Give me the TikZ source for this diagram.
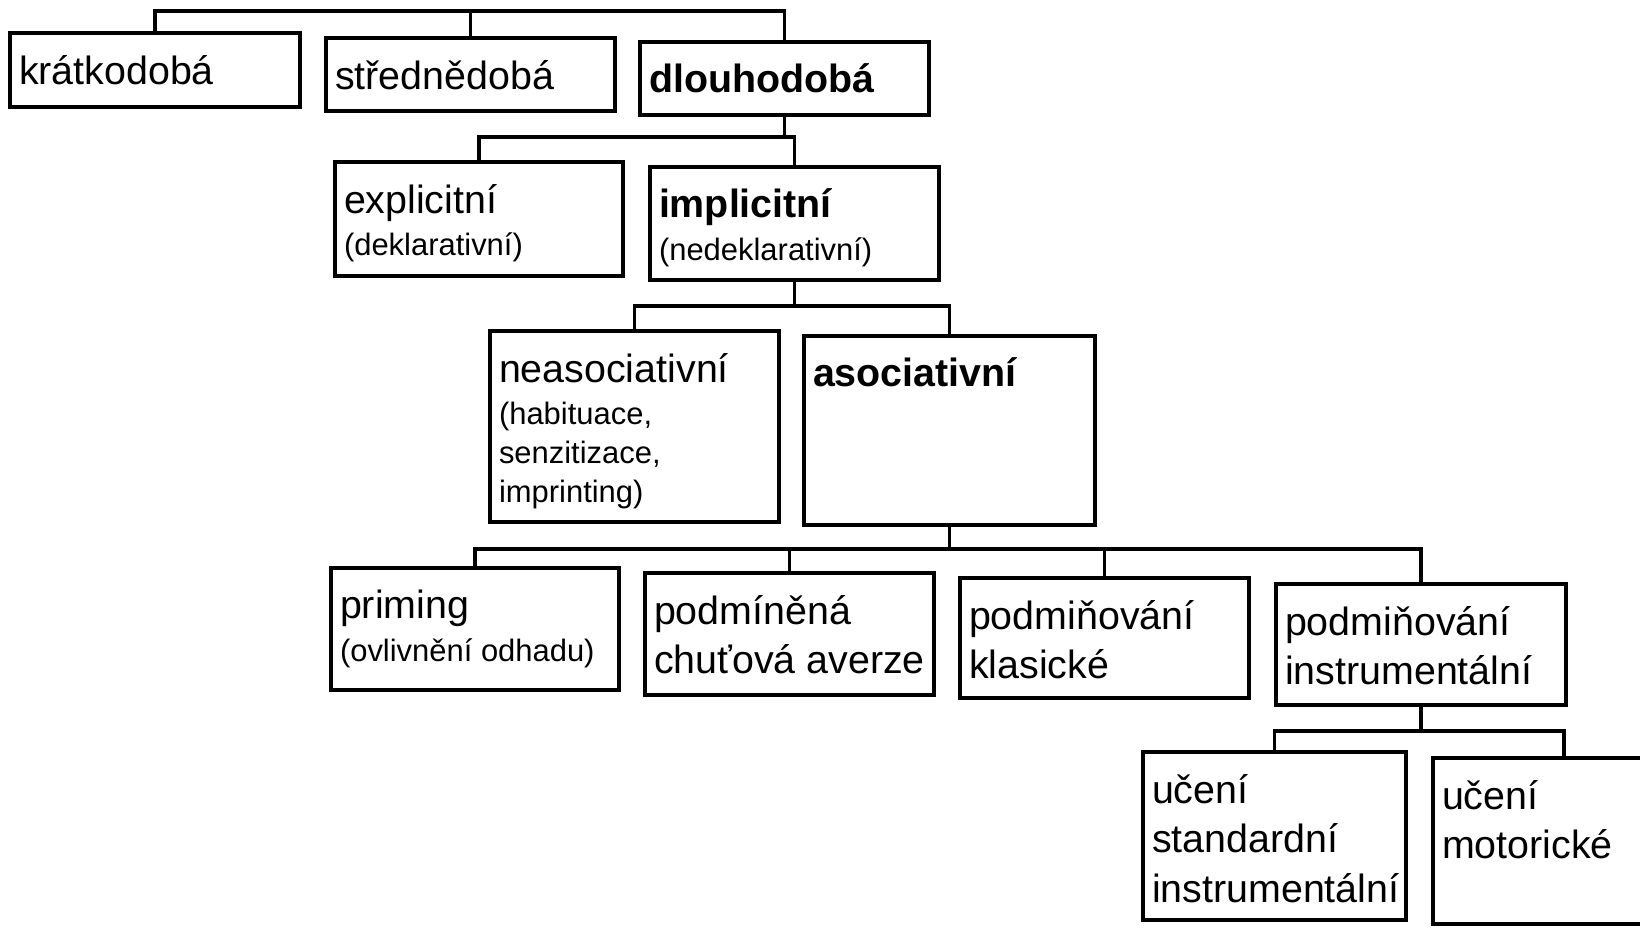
\documentclass[tikz,border=0pt]{standalone}
\usepackage{fontspec}
\setmainfont{Liberation Sans}

\newdimen\pxu \pxu=0.01cm
\newcommand{\boxtxt}[3]{\parbox[t][\dimexpr#2\pxu-0.44cm\relax][t]{\dimexpr#1\pxu-0.18cm\relax}{\fontsize{11.2}{14.1}\selectfont #3}}
\newcommand{\subtxt}{\par\vspace{1.2pt}\fontsize{8.8}{11}\selectfont}

\begin{document}
\begin{tikzpicture}[x=0.01cm, y=-0.01cm,
    box/.style={draw, line width=1pt, fill=white, anchor=north west,
      inner xsep=0.09cm, inner ysep=0.22cm, outer sep=0pt},
    link/.style={line width=0.95pt}]
  \useasboundingbox (0,0) rectangle (1640,927);
  \clip (0,0) rectangle (1640,927);

  \node[box] (kratkodoba)     at (10,33)    {\boxtxt{290}{74}{krátkodobá}};
  \node[box] (strednedoba)    at (326,38)   {\boxtxt{289}{73}{střednědobá}};
  \node[box] (dlouhodoba)     at (640,42)   {\boxtxt{289}{72}{\textbf{dlouhodobá}}};

  \node[box] (explicitni)     at (335,162)  {\boxtxt{288}{114}{explicitní\subtxt (deklarativní)}};
  \node[box] (implicitni)     at (650,167)  {\boxtxt{289}{113}{\textbf{implicitní}\subtxt (nedeklarativní)}};

  \node[box] (neasociativni)  at (490,331)  {\boxtxt{289}{191}{neasociativní\subtxt (habituace,\\ senzitizace,\\ imprinting)}};
  \node[box] (asociativni)    at (804,336)  {\boxtxt{291}{189}{\textbf{asociativní}}};

  \node[box] (priming)        at (331,568)  {\boxtxt{288}{122}{priming\subtxt (ovlivnění~odhadu)}};
  \node[box] (podminena)      at (645,573)  {\boxtxt{289}{122}{podmíněná\\ chuťová~averze}};
  \node[box] (klasicke)       at (960,578)  {\boxtxt{289}{120}{podmiňování\\ klasické}};
  \node[box] (instrumentalni) at (1276,584) {\boxtxt{290}{121}{podmiňování\\ instrumentální}};

  \node[box] (uceniStd)       at (1143,752) {\boxtxt{263}{168}{učení\\ standardní\\ instrumentální}};
  \node[box] (uceniMot)       at (1433,758) {\boxtxt{262}{166}{učení\\ motorické}};

  % bars of the tree
  \coordinate (bar1) at (0,11);
  \coordinate (bar2) at (0,137);
  \coordinate (bar3) at (0,306);
  \coordinate (bar4) at (0,549);
  \coordinate (bar5) at (0,731);

  \draw[link] (kratkodoba.north) |- (bar1 -| dlouhodoba.north) -- (dlouhodoba.north);
  \draw[link] (strednedoba.north) -- (strednedoba.north |- bar1);

  \draw[link] (dlouhodoba.south) -- (dlouhodoba.south |- bar2);
  \draw[link] (explicitni.north) |- (bar2 -| implicitni.north) -- (implicitni.north);

  \draw[link] (implicitni.south) -- (implicitni.south |- bar3);
  \draw[link] (neasociativni.north) |- (bar3 -| asociativni.north) -- (asociativni.north);

  \draw[link] (asociativni.south) -- (asociativni.south |- bar4);
  \draw[link] (priming.north) |- (bar4 -| instrumentalni.north) -- (instrumentalni.north);
  \draw[link] (podminena.north) -- (podminena.north |- bar4);
  \draw[link] (klasicke.north) -- (klasicke.north |- bar4);

  \draw[link] (instrumentalni.south) -- (instrumentalni.south |- bar5);
  \draw[link] (uceniStd.north) |- (bar5 -| uceniMot.north) -- (uceniMot.north);
\end{tikzpicture}
\end{document}
